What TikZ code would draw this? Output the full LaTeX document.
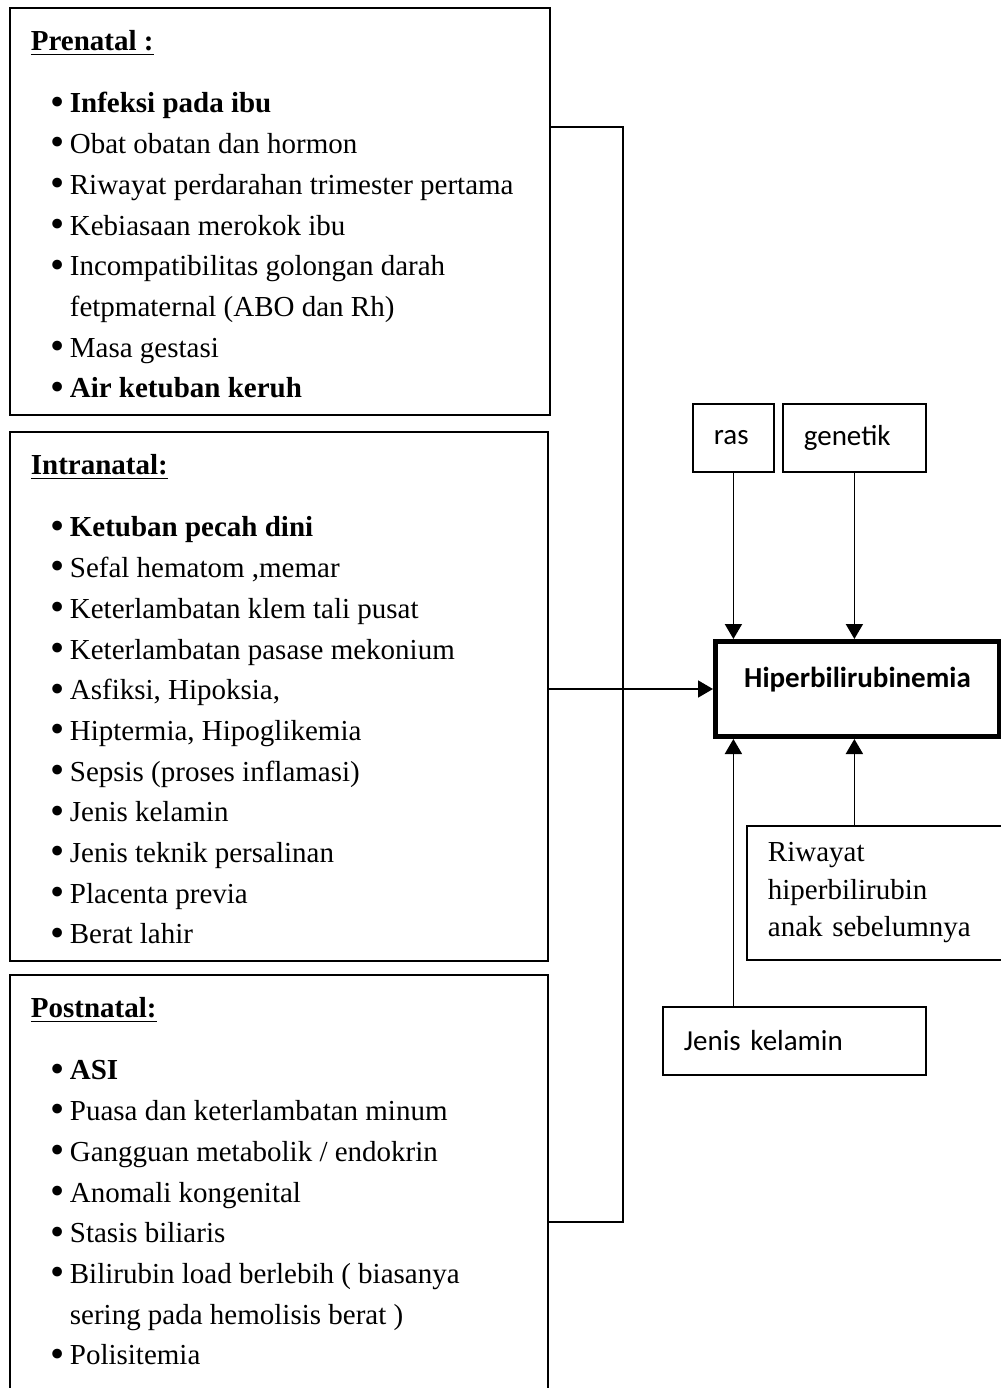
\documentclass[tikz,border=0pt]{standalone}
\usepackage{fontspec}
\setmainfont{Liberation Serif}
\newfontfamily\calibri{Carlito}
\usepackage{tikz}
\usetikzlibrary{positioning,calc,arrows.meta}
\tikzset{grp/.style={draw, line width=0.9pt, inner sep=0pt, anchor=north west, font=\fontsize{14.5}{20.35}\selectfont}}
\tikzset{sbox/.style={draw, line width=0.9pt, anchor=north west, align=left, inner xsep=10.5pt, inner ysep=0pt, minimum height=34pt, font=\calibri\fontsize{14.5}{18}\selectfont}}
\tikzset{mainbox/.style={draw, line width=2.5pt, anchor=north west, minimum width=142pt, minimum height=47.5pt, text depth=11.5pt, font=\calibri\bfseries\fontsize{14.5}{18}\selectfont}}
\tikzset{arr/.style={draw, line width=0.9pt, -{Triangle[length=7.5pt,width=8.5pt]}}}
\tikzset{lnk/.style={draw, line width=0.9pt}}
\newcommand{\grphead}[1]{\rule{0pt}{21.5pt}\hspace*{10.5pt}\underline{\textbf{#1}}\par\vspace{10.65pt}}
\newcommand{\bitem}[1]{\hspace*{20.5pt}\makebox[9.5pt][l]{\raisebox{-0.08em}{\scalebox{1.4}{\textbullet}}}#1\par}
\newcommand{\bcont}[1]{\hspace*{30pt}#1\par}

\begin{document}
\begin{tikzpicture}[x=0.5pt, y=-0.5pt]
    \useasboundingbox (0,0) rectangle (1001,1388);
    %
    \node[grp] (pre) at (9,7) {\parbox[c][203.5pt][t]{270pt}{%
        \grphead{Prenatal :}
        \bitem{\textbf{Infeksi pada ibu}}
        \bitem{Obat obatan dan hormon}
        \bitem{Riwayat perdarahan trimester pertama}
        \bitem{Kebiasaan merokok ibu}
        \bitem{Incompatibilitas golongan darah}
        \bcont{fetpmaternal (ABO dan Rh)}
        \bitem{Masa gestasi}
        \bitem{\textbf{Air ketuban keruh}}}};
    \node[grp] (intra) at (9,431) {\parbox[c][264.5pt][t]{269pt}{%
        \grphead{Intranatal:}
        \bitem{\textbf{Ketuban pecah dini}}
        \bitem{Sefal hematom ,memar}
        \bitem{Keterlambatan klem tali pusat}
        \bitem{Keterlambatan pasase mekonium}
        \bitem{Asfiksi, Hipoksia,}
        \bitem{Hiptermia, Hipoglikemia}
        \bitem{Sepsis (proses inflamasi)}
        \bitem{Jenis kelamin}
        \bitem{Jenis teknik persalinan}
        \bitem{Placenta previa}
        \bitem{Berat lahir}}};
    \node[grp] (post) at (9,974) {\parbox[c][213pt][t]{269pt}{%
        \grphead{Postnatal:}
        \bitem{\textbf{ASI}}
        \bitem{Puasa dan keterlambatan minum}
        \bitem{Gangguan metabolik / endokrin}
        \bitem{Anomali kongenital}
        \bitem{Stasis biliaris}
        \bitem{Bilirubin load berlebih ( biasanya}
        \bcont{sering pada hemolisis berat )}
        \bitem{Polisitemia}}};
    %
    \node[mainbox] (hyp) at (713,639) {Hiperbilirubinemia};
    \node[sbox, text width=19.5pt] (ras) at (692,403) {ras};
    \node[sbox, text width=50.5pt] (gen) at (782,403) {genetik};
    \node[sbox, text width=116pt, minimum height=67pt,
          font=\fontsize{14.5}{18.75}\selectfont] (riw) at (746,825)
        {Riwayat\\hiperbilirubin\\anak sebelumnya};
    \node[sbox, text width=110.5pt] (jk) at (662,1006) {Jenis kelamin};
    %
    \coordinate (jtop) at (623,127);
    \coordinate (jbot) at (623,1222);
    \draw[lnk] (pre.east |- jtop) -- (jtop) -- (jbot) -- (post.east |- jbot);
    \draw[arr] (intra.east |- hyp.west) -- (hyp.west);
    %
    \draw[arr] (ras.south) -- (ras.south |- hyp.north);
    \draw[arr] (gen.south) -- (gen.south |- hyp.north);
    \draw[arr] (ras.south |- jk.north) -- (ras.south |- hyp.south);
    \draw[arr] (gen.south |- riw.north) -- (gen.south |- hyp.south);
    %
\end{tikzpicture}
\end{document}
